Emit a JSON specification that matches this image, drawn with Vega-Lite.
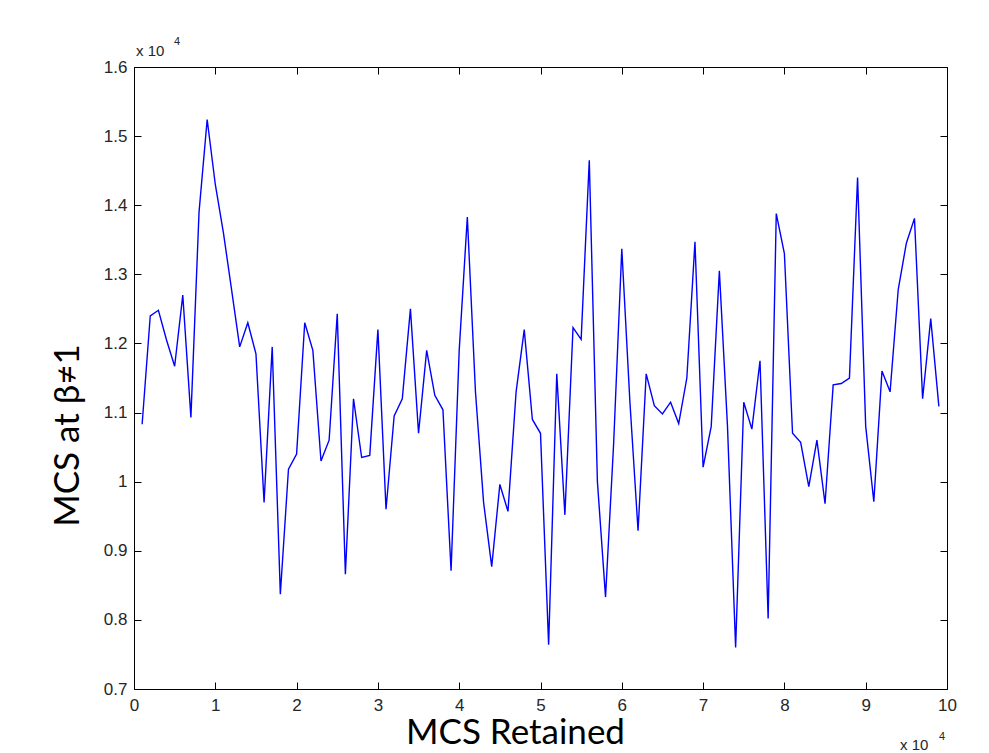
{
  "$schema": "https://vega.github.io/schema/vega-lite/v6.json",
  "width": 813,
  "height": 622,
  "autosize": {"type": "none"},
  "padding": {"left": 134, "top": 67, "right": 42, "bottom": 64},
  "background": "white",
  "view": {"stroke": null},
  "config": {
    "axis": {
      "grid": false,
      "domainColor": "#000000",
      "domainWidth": 1,
      "tickColor": "#000000",
      "tickWidth": 1,
      "tickSize": -7,
      "labelFont": "Liberation Sans",
      "labelFontSize": 17,
      "labelColor": "#262626",
      "titleFont": "Lato",
      "titleFontSize": 35,
      "titleFontWeight": "normal",
      "titleColor": "#000000"
    }
  },
  "datasets": {
    "mcs": [
      {"retained": 1000, "mcs": 10830}, {"retained": 2000, "mcs": 12400}, {"retained": 3000, "mcs": 12480},
      {"retained": 4000, "mcs": 12050}, {"retained": 5000, "mcs": 11670}, {"retained": 6000, "mcs": 12700},
      {"retained": 7000, "mcs": 10930}, {"retained": 8000, "mcs": 13900}, {"retained": 9000, "mcs": 15240},
      {"retained": 10000, "mcs": 14300}, {"retained": 11000, "mcs": 13600}, {"retained": 12000, "mcs": 12780},
      {"retained": 13000, "mcs": 11950}, {"retained": 14000, "mcs": 12300}, {"retained": 15000, "mcs": 11850},
      {"retained": 16000, "mcs": 9700}, {"retained": 17000, "mcs": 11950}, {"retained": 18000, "mcs": 8370},
      {"retained": 19000, "mcs": 10180}, {"retained": 20000, "mcs": 10400}, {"retained": 21000, "mcs": 12300},
      {"retained": 22000, "mcs": 11900}, {"retained": 23000, "mcs": 10300}, {"retained": 24000, "mcs": 10600},
      {"retained": 25000, "mcs": 12430}, {"retained": 26000, "mcs": 8660}, {"retained": 27000, "mcs": 11200},
      {"retained": 28000, "mcs": 10350}, {"retained": 29000, "mcs": 10380}, {"retained": 30000, "mcs": 12200},
      {"retained": 31000, "mcs": 9600}, {"retained": 32000, "mcs": 10950}, {"retained": 33000, "mcs": 11200},
      {"retained": 34000, "mcs": 12500}, {"retained": 35000, "mcs": 10700}, {"retained": 36000, "mcs": 11900},
      {"retained": 37000, "mcs": 11250}, {"retained": 38000, "mcs": 11040}, {"retained": 39000, "mcs": 8710},
      {"retained": 40000, "mcs": 11900}, {"retained": 41000, "mcs": 13830}, {"retained": 42000, "mcs": 11300},
      {"retained": 43000, "mcs": 9700}, {"retained": 44000, "mcs": 8770}, {"retained": 45000, "mcs": 9960},
      {"retained": 46000, "mcs": 9570}, {"retained": 47000, "mcs": 11300}, {"retained": 48000, "mcs": 12200},
      {"retained": 49000, "mcs": 10900}, {"retained": 50000, "mcs": 10700}, {"retained": 51000, "mcs": 7640},
      {"retained": 52000, "mcs": 11560}, {"retained": 53000, "mcs": 9520}, {"retained": 54000, "mcs": 12230},
      {"retained": 55000, "mcs": 12060}, {"retained": 56000, "mcs": 14650}, {"retained": 57000, "mcs": 10000},
      {"retained": 58000, "mcs": 8330}, {"retained": 59000, "mcs": 10560}, {"retained": 60000, "mcs": 13370},
      {"retained": 61000, "mcs": 11150}, {"retained": 62000, "mcs": 9290}, {"retained": 63000, "mcs": 11560},
      {"retained": 64000, "mcs": 11100}, {"retained": 65000, "mcs": 10980}, {"retained": 66000, "mcs": 11150},
      {"retained": 67000, "mcs": 10840}, {"retained": 68000, "mcs": 11500}, {"retained": 69000, "mcs": 13470},
      {"retained": 70000, "mcs": 10210}, {"retained": 71000, "mcs": 10800}, {"retained": 72000, "mcs": 13050},
      {"retained": 73000, "mcs": 10800}, {"retained": 74000, "mcs": 7600}, {"retained": 75000, "mcs": 11150},
      {"retained": 76000, "mcs": 10760}, {"retained": 77000, "mcs": 11750}, {"retained": 78000, "mcs": 8020},
      {"retained": 79000, "mcs": 13880}, {"retained": 80000, "mcs": 13300}, {"retained": 81000, "mcs": 10700},
      {"retained": 82000, "mcs": 10570}, {"retained": 83000, "mcs": 9930}, {"retained": 84000, "mcs": 10600},
      {"retained": 85000, "mcs": 9680}, {"retained": 86000, "mcs": 11400}, {"retained": 87000, "mcs": 11420},
      {"retained": 88000, "mcs": 11500}, {"retained": 89000, "mcs": 14400}, {"retained": 90000, "mcs": 10800},
      {"retained": 91000, "mcs": 9710}, {"retained": 92000, "mcs": 11600}, {"retained": 93000, "mcs": 11300},
      {"retained": 94000, "mcs": 12780}, {"retained": 95000, "mcs": 13450}, {"retained": 96000, "mcs": 13810},
      {"retained": 97000, "mcs": 11200}, {"retained": 98000, "mcs": 12360}, {"retained": 99000, "mcs": 11090}
    ],
    "note": [{"t": "x 10", "e": "4"}]
  },
  "layer": [
    {
      "data": {"name": "mcs"},
      "mark": {"type": "line", "stroke": "#0000ff", "strokeWidth": 1.4, "clip": true},
      "encoding": {
        "x": {
          "field": "retained", "type": "quantitative",
          "scale": {"domain": [0, 100000], "nice": false, "zero": false},
          "axis": {
            "orient": "bottom",
            "values": [0, 10000, 20000, 30000, 40000, 50000, 60000, 70000, 80000, 90000, 100000],
            "labelExpr": "format(datum.value / 10000, 'd')",
            "labelPadding": 15,
            "labelFlush": false,
            "labelOverlap": false,
            "title": "MCS Retained",
            "titleX": 381,
            "titleY": 54,
            "titleAlign": "center",
            "titleBaseline": "alphabetic"
          }
        },
        "y": {
          "field": "mcs", "type": "quantitative",
          "scale": {"domain": [7000, 16000], "nice": false, "zero": false},
          "axis": {
            "orient": "left",
            "values": [7000, 8000, 9000, 10000, 11000, 12000, 13000, 14000, 15000, 16000],
            "labelExpr": "format(datum.value / 10000, '.1~f')",
            "labelPadding": 14,
            "labelFlush": false,
            "labelOverlap": false,
            "title": "MCS at β≠1",
            "titleX": -56,
            "titleY": 368,
            "titleAngle": 270,
            "titleAlign": "center",
            "titleBaseline": "alphabetic"
          }
        }
      }
    },
    {
      "data": {"name": "mcs"},
      "mark": {"type": "line", "strokeOpacity": 0},
      "encoding": {
        "x": {
          "field": "retained", "type": "quantitative",
          "axis": {
            "orient": "top",
            "values": [0, 10000, 20000, 30000, 40000, 50000, 60000, 70000, 80000, 90000, 100000],
            "labels": false,
            "title": null
          }
        },
        "y": {
          "field": "mcs", "type": "quantitative",
          "axis": {
            "orient": "right",
            "values": [7000, 8000, 9000, 10000, 11000, 12000, 13000, 14000, 15000, 16000],
            "labels": false,
            "title": null
          }
        }
      }
    },
    {
      "data": {"name": "note"},
      "mark": {"type": "text", "font": "Liberation Sans", "fontSize": 15, "color": "#262626", "align": "left", "baseline": "alphabetic", "dx": 2, "dy": -11},
      "encoding": {"x": {"datum": 0, "type": "quantitative", "axis": null}, "y": {"datum": 16000, "type": "quantitative", "axis": null}, "text": {"field": "t"}}
    },
    {
      "data": {"name": "note"},
      "mark": {"type": "text", "font": "Liberation Sans", "fontSize": 11, "color": "#262626", "align": "left", "baseline": "alphabetic", "dx": 40, "dy": -22},
      "encoding": {"x": {"datum": 0, "type": "quantitative", "axis": null}, "y": {"datum": 16000, "type": "quantitative", "axis": null}, "text": {"field": "e"}}
    },
    {
      "data": {"name": "note"},
      "mark": {"type": "text", "font": "Liberation Sans", "fontSize": 15, "color": "#262626", "align": "left", "baseline": "alphabetic", "dx": -47, "dy": 61},
      "encoding": {"x": {"datum": 100000, "type": "quantitative", "axis": null}, "y": {"datum": 7000, "type": "quantitative", "axis": null}, "text": {"field": "t"}}
    },
    {
      "data": {"name": "note"},
      "mark": {"type": "text", "font": "Liberation Sans", "fontSize": 11, "color": "#262626", "align": "left", "baseline": "alphabetic", "dx": -8, "dy": 51},
      "encoding": {"x": {"datum": 100000, "type": "quantitative", "axis": null}, "y": {"datum": 7000, "type": "quantitative", "axis": null}, "text": {"field": "e"}}
    }
  ],
  "resolve": {"axis": {"x": "independent", "y": "independent"}}
}
